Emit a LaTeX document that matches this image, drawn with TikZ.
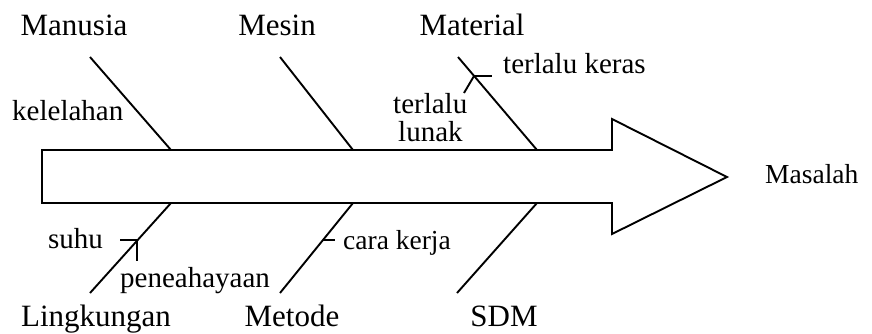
\documentclass[tikz,border=0pt]{standalone}
\usepackage{fontspec}
\setmainfont{Liberation Serif}
\begin{document}
\begin{tikzpicture}[x=1pt,y=-1pt,
  bone/.style={line width=1.9pt},
  lbl/.style={inner sep=0pt,font=\fontsize{29}{31}\selectfont},
  cat/.style={inner sep=0pt,anchor=base,font=\fontsize{31}{33}\selectfont},
  slbl/.style={inner sep=0pt,font=\fontsize{27.5}{30}\selectfont}]
\useasboundingbox (0,0) rectangle (872,333);
% main arrow
\draw[bone,line join=miter] (42,150) -- (612,150) -- (612,119) -- (727,177) -- (612,234) -- (612,203) -- (42,203) -- cycle;
% category labels
\node[cat] (manusia) at (74,35) {Manusia};
\node[cat] (mesin) at (277,35) {Mesin};
\node[cat] (material) at (472,35) {Material};
\node[cat] (lingkungan) at (96,326) {Lingkungan};
\node[cat] (metode) at (292,326) {Metode};
\node[cat] (sdm) at (504,326) {SDM};
\node[slbl,anchor=base west] (masalah) at (765,183) {Masalah};
% bones
\coordinate (b1s) at (90,57);  \coordinate (b1e) at (171,150);
\coordinate (b2s) at (280,57); \coordinate (b2e) at (353,150);
\coordinate (b3s) at (458,57); \coordinate (b3e) at (537,150);
\coordinate (b4s) at (171,203); \coordinate (b4e) at (90,293);
\coordinate (b5s) at (353,203); \coordinate (b5e) at (280,293);
\coordinate (b6s) at (537,203); \coordinate (b6e) at (457,293);
\draw[bone] (b1s) -- (b1e);
\draw[bone] (b2s) -- (b2e);
\draw[bone] (b3s) -- (b3e);
\draw[bone] (b4s) -- (b4e);
\draw[bone] (b5s) -- (b5e);
\draw[bone] (b6s) -- (b6e);
% cause labels
\node[lbl,anchor=base west] (kelelahan) at (12,120) {kelelahan};
\node[lbl,anchor=base west] (keras) at (503,73) {terlalu keras};
\node[lbl,anchor=base west] (lunak1) at (393,113) {terlalu};
\node[lbl,anchor=base west] (lunak2) at (398,141) {lunak};
\node[lbl,anchor=base west] (suhu) at (48,248) {suhu};
\node[lbl,anchor=base west] (pencahayaan) at (120,287) {peneahayaan};
\node[slbl,anchor=base west] (cara) at (343,249) {cara kerja};
% sub-branches
\coordinate (m1) at (474,76);
\coordinate (m1r) at (492,76);
\coordinate (m1d) at (464,93);
\draw[bone] (m1) -- (m1r);
\draw[bone] (m1) -- (m1d);
\coordinate (l1) at (137,240);
\coordinate (l1l) at (120,240);
\coordinate (l1d) at (137,261);
\draw[bone] (l1l) -- (l1);
\draw[bone] (l1) -- (l1d);
\coordinate (t1) at (323,240);
\coordinate (t1r) at (335,240);
\draw[bone] (t1) -- (t1r);
\end{tikzpicture}
\end{document}
